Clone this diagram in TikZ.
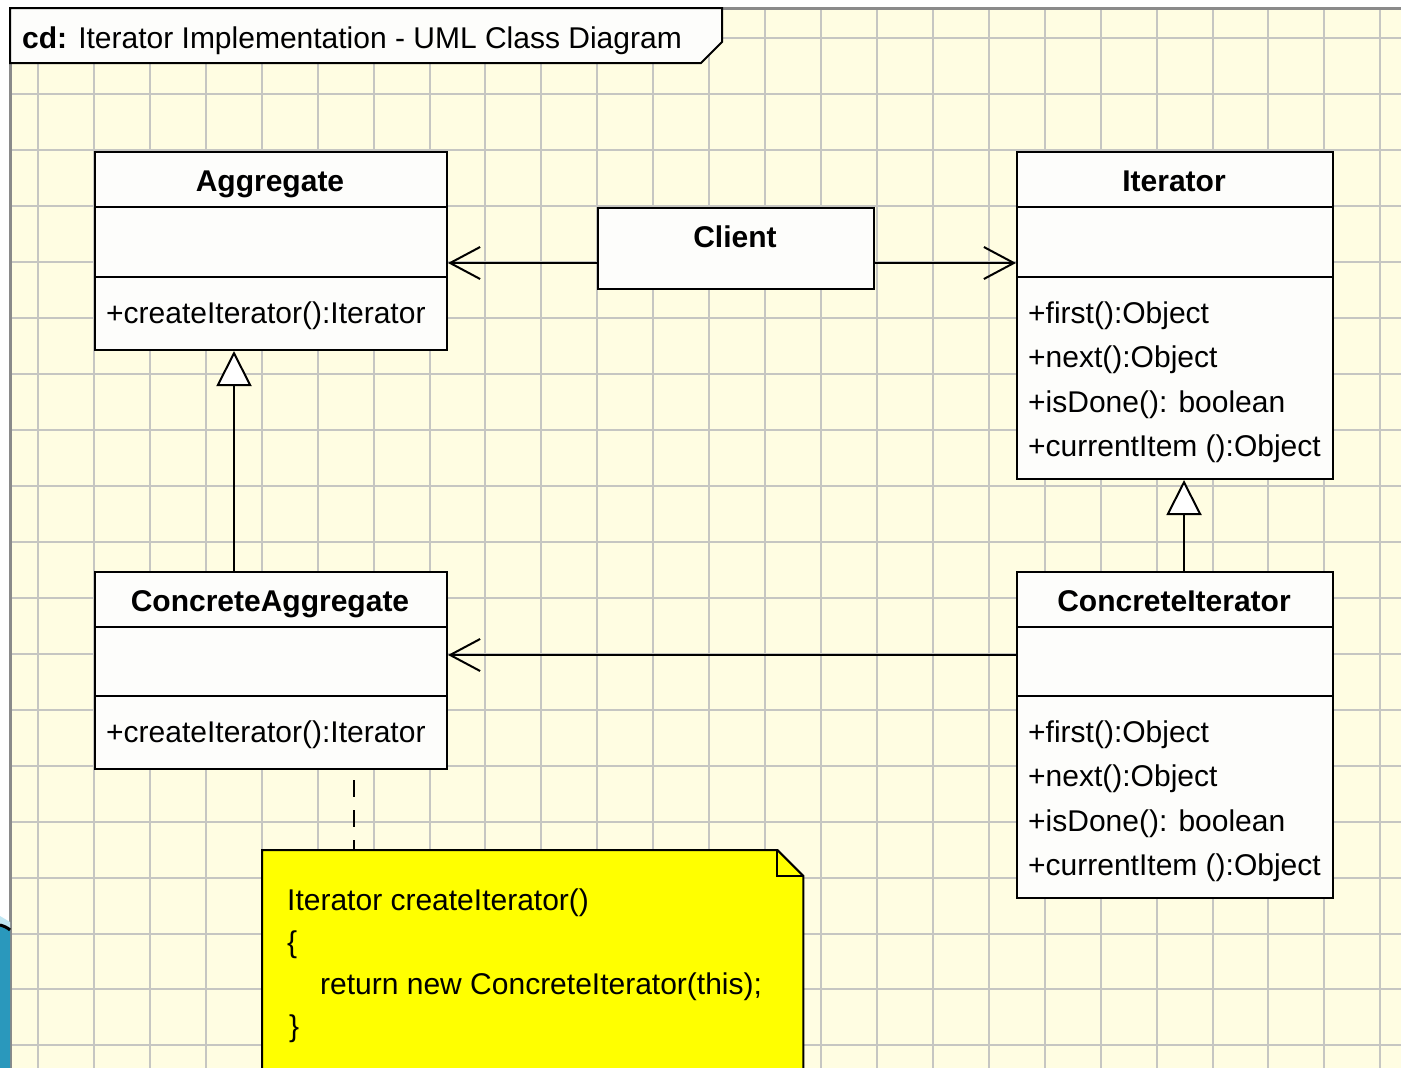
\documentclass[tikz,border=0pt]{standalone}
\usepackage{fontspec}
\setmainfont{Liberation Sans}
\usetikzlibrary{arrows.meta}
\definecolor{paper}{HTML}{FFFDE2}
\definecolor{gridline}{HTML}{C6C6C2}
\definecolor{framegrey}{HTML}{8A8A8A}
\definecolor{boxfill}{HTML}{FDFDFB}
\definecolor{notefill}{HTML}{FFFF00}
\definecolor{slideblue}{HTML}{2A98BC}
\definecolor{slidelight}{HTML}{BFE6F2}

\begin{document}
\begin{tikzpicture}[x=1pt,y=-1pt,
  font=\fontsize{30}{36}\selectfont,
  cls/.style={draw=black, line width=2pt, fill=boxfill, rectangle, anchor=north west, inner sep=0pt},
  txt/.style={anchor=base west, inner sep=0pt},
  cname/.style={anchor=base, inner sep=0pt, font=\fontsize{30}{36}\selectfont\bfseries},
  compline/.style={line width=2pt},
  assoc/.style={line width=2pt, -{Straight Barb[length=30pt,width=32pt,line width=2pt]}},
  gen/.style={line width=2pt, -{Triangle[open,fill=white,length=35pt,width=35pt,line width=2pt]}},
  notelink/.style={line width=2pt, dash pattern=on 17pt off 13pt, dash phase=20pt},
  ]
\useasboundingbox (0,0) rectangle (1401,1068);
\clip (0,0) rectangle (1401,1068);

% white page with the diagram frame
\fill[white] (0,0) rectangle (1401,1068);
\fill[paper] (10,8) rectangle (1401,1068);

% drawing grid
\foreach \k in {0,...,24}
  \draw[gridline, line width=2pt] ({38+\k*55.93},8) -- ({38+\k*55.93},1068);
\foreach \k in {0,...,18}
  \draw[gridline, line width=2pt] (10,{38.3+\k*55.95}) -- (1401,{38.3+\k*55.95});

% frame border
\draw[framegrey, line width=3pt] (10,1068) -- (10,8) -- (1401,8);

% slide decoration at the lower left
\fill[slidelight] (0,916) -- (10,922) -- (10,930) -- (0,925) -- cycle;
\fill[slideblue] (0,925) .. controls (4,926) and (8,928) .. (10,930) -- (10,1068) -- (0,1068) -- cycle;
\draw[black, line width=3pt] (0,925) .. controls (4,926) and (8,928) .. (10,930);

% diagram title tab
\filldraw[fill=boxfill, draw=black, line width=2pt]
  (10,8) -- (722,8) -- (722,42) -- (701,63) -- (10,63) -- cycle;
\node[txt] (cdtitle) at (22,48) {\textbf{cd:} Iterator Implementation - UML Class Diagram};

% Aggregate
\node[cls, minimum width=352, minimum height=198] (agg) at (94,151) {};
\draw[compline] (agg.west |- 0,207) -- (agg.east |- 0,207);
\draw[compline] (agg.west |- 0,277) -- (agg.east |- 0,277);
\node[cname] (aggname) at (270,191) {Aggregate};
\node[txt] (aggop) at (106,323) {+createIterator():Iterator};

% Client
\node[cls, minimum width=276, minimum height=81] (cli) at (597,207) {};
\node[cname] (cliname) at (735,247) {Client};

% Iterator
\node[cls, minimum width=316, minimum height=327] (itr) at (1016,151) {};
\draw[compline] (itr.west |- 0,207) -- (itr.east |- 0,207);
\draw[compline] (itr.west |- 0,277) -- (itr.east |- 0,277);
\node[cname] (itrname) at (1174,191) {Iterator};
\node[txt] (itrop1) at (1028,323) {+first():Object};
\node[txt] (itrop2) at (1028,367) {+next():Object};
\node[txt] (itrop3) at (1028,412) {+isDone(): boolean};
\node[txt] (itrop4) at (1028,456) {+currentItem ():Object};

% ConcreteAggregate
\node[cls, minimum width=352, minimum height=197] (cagg) at (94,571) {};
\draw[compline] (cagg.west |- 0,627) -- (cagg.east |- 0,627);
\draw[compline] (cagg.west |- 0,696) -- (cagg.east |- 0,696);
\node[cname] (caggname) at (270,611) {ConcreteAggregate};
\node[txt] (caggop) at (106,742) {+createIterator():Iterator};

% ConcreteIterator
\node[cls, minimum width=316, minimum height=326] (citr) at (1016,571) {};
\draw[compline] (citr.west |- 0,627) -- (citr.east |- 0,627);
\draw[compline] (citr.west |- 0,696) -- (citr.east |- 0,696);
\node[cname] (citrname) at (1174,611) {ConcreteIterator};
\node[txt] (citrop1) at (1028,742) {+first():Object};
\node[txt] (citrop2) at (1028,786) {+next():Object};
\node[txt] (citrop3) at (1028,831) {+isDone(): boolean};
\node[txt] (citrop4) at (1028,875) {+currentItem ():Object};

% note attached to ConcreteAggregate
\node[inner sep=0pt, minimum width=541, minimum height=240, anchor=north west] (note) at (262,850) {};
\filldraw[fill=notefill, draw=black, line width=2pt]
  (note.north west) -- ([xshift=-26pt]note.north east) -- ([yshift=-26pt]note.north east)
  -- (note.south east) -- (note.south west) -- cycle;
\draw[line width=2pt] ([xshift=-26pt]note.north east) -- ([xshift=-26pt,yshift=-26pt]note.north east)
  -- ([yshift=-26pt]note.north east);
\node[txt] (code1) at (287,910) {Iterator createIterator()};
\node[txt] (code2) at (287,952) {\{};
\node[txt] (code3) at (320,994) {return new ConcreteIterator(this);};
\node[txt] (code4) at (289,1036) {\}};

% relationships
\draw[assoc] (cli.west |- 0,263) -- (agg.east |- 0,263);
\draw[assoc] (cli.east |- 0,263) -- (itr.west |- 0,263);
\draw[assoc] (citr.west |- 0,655) -- (cagg.east |- 0,655);
\draw[gen] (cagg.north -| 234,0) -- (agg.south -| 234,0);
\draw[gen] (citr.north -| 1184,0) -- (itr.south -| 1184,0);
\draw[notelink] (cagg.south -| 354,0) -- (note.north -| 354,0);
\end{tikzpicture}
\end{document}
